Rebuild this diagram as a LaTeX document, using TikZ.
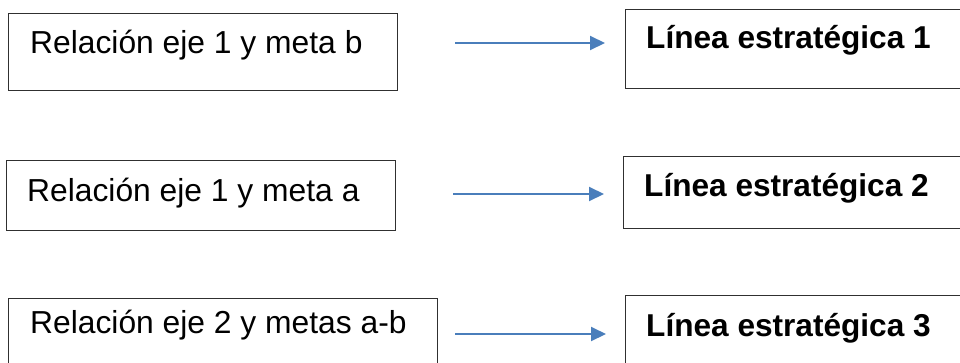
\documentclass[tikz,border=0pt]{standalone}
\usepackage{fontspec}
\setmainfont{Liberation Sans}
\usetikzlibrary{arrows.meta}
\definecolor{arrowblue}{HTML}{4A7EBB}
\definecolor{boxline}{HTML}{303030}
\begin{document}
\begin{tikzpicture}[x=1pt,y=-1pt,
  box/.style={draw=boxline, line width=1.3pt, rectangle, inner sep=0pt, anchor=north west},
  txt/.style={anchor=base west, inner sep=0pt, font=\fontsize{31.8}{38}\selectfont},
  btxt/.style={txt, font=\fontsize{31.6}{38}\selectfont\bfseries},
  arr/.style={draw=arrowblue, line width=2pt, -{Triangle[length=15pt,width=14pt]}}]
\useasboundingbox (0,0) rectangle (960,362);
\clip (0,0) rectangle (960,362);
% left boxes
\node[box, minimum width=389pt, minimum height=77pt,
  label={[txt, xshift=22pt, yshift=-40pt]north west:Relación eje 1 y meta b}] (L1) at (8,13) {};
\node[box, minimum width=389pt, minimum height=70pt,
  label={[txt, xshift=21pt, yshift=-41pt]north west:Relación eje 1 y meta a}] (L2) at (6,160) {};
\node[box, minimum width=429pt, minimum height=80pt,
  label={[txt, xshift=22pt, yshift=-35pt]north west:Relación eje 2 y metas a-b}] (L3) at (8,298) {};
% right boxes
\node[box, minimum width=400pt, minimum height=79pt,
  label={[btxt, xshift=21pt, yshift=-39pt]north west:Línea estratégica 1}] (R1) at (625,9) {};
\node[box, minimum width=400pt, minimum height=72pt,
  label={[btxt, xshift=21pt, yshift=-40pt]north west:Línea estratégica 2}] (R2) at (623,156) {};
\node[box, minimum width=400pt, minimum height=80pt,
  label={[btxt, xshift=21pt, yshift=-41pt]north west:Línea estratégica 3}] (R3) at (625,295) {};
% arrows
\coordinate (a1s) at (455,43);
\coordinate (a1e) at (605,43);
\coordinate (a2s) at (453,194);
\coordinate (a2e) at (604,194);
\coordinate (a3s) at (455,334);
\coordinate (a3e) at (606,334);
\draw[arr] (a1s) -- (a1e);
\draw[arr] (a2s) -- (a2e);
\draw[arr] (a3s) -- (a3e);
\end{tikzpicture}
\end{document}
